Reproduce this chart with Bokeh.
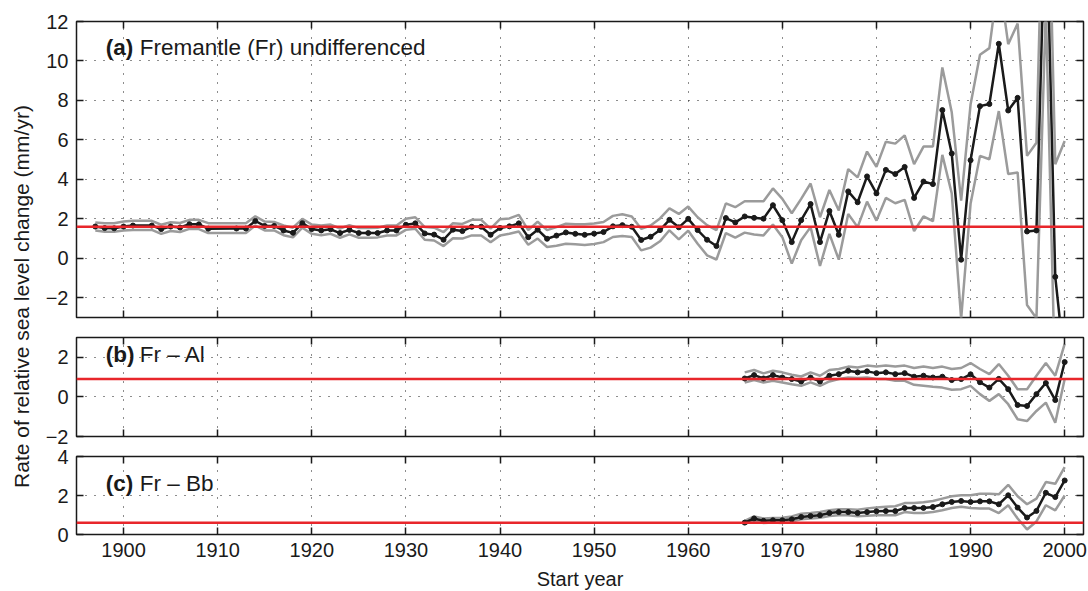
from bokeh.plotting import figure
from bokeh.models import (Range1d, LinearAxis, FixedTicker, Span, Label,
                          ColumnDataSource, CustomJSTickFormatter)
from bokeh.layouts import row, column
from bokeh.embed import file_html
from bokeh.resources import INLINE

# ---------------------------------------------------------------- data
# Start years of the Fremantle record (a few early years have no estimate)
years_a = [1897, 1898, 1899, 1900, 1901, 1903, 1904, 1905, 1906, 1907, 1908,
           1909] + list(range(1912, 2001))

rate_a = [1.61, 1.53, 1.52, 1.61, 1.66, 1.66, 1.48, 1.61, 1.56, 1.73, 1.72,
          1.50,
          1.51, 1.51, 1.89, 1.64, 1.64, 1.41, 1.29, 1.78, 1.48, 1.41,  # 1912-21
          1.47, 1.28, 1.44, 1.28, 1.28, 1.28, 1.41, 1.41, 1.70, 1.77,  # 1922-31
          1.26, 1.20, 0.94, 1.45, 1.38, 1.60, 1.60, 1.19, 1.54, 1.62,  # 1932-41
          1.77, 1.07, 1.45, 0.99, 1.15, 1.31, 1.24, 1.19, 1.25, 1.33,  # 1942-51
          1.62, 1.68, 1.60, 0.93, 1.09, 1.43, 1.95, 1.57, 2.00, 1.43,  # 1952-61
          0.94, 0.62, 2.04, 1.82, 2.12, 2.05, 2.01, 2.69, 1.93, 0.82,  # 1962-71
          1.93, 2.75, 0.82, 2.40, 1.19, 3.39, 2.84, 4.15, 3.29, 4.48,  # 1972-81
          4.27, 4.63, 3.06, 3.89, 3.76, 7.51, 5.31, -0.07, 4.97, 7.71,  # 1982-91
          7.82, 10.87, 7.49, 8.13, 1.36, 1.41, 18.6, -0.94, -5.4]       # 1992-2000

upper_a = [1.81, 1.78, 1.78, 1.86, 1.90, 1.90, 1.70, 1.83, 1.79, 1.95, 1.95,
           1.78,
           1.78, 1.78, 2.13, 1.86, 1.84, 1.66, 1.55, 2.00, 1.71, 1.66,
           1.71, 1.51, 1.68, 1.53, 1.53, 1.55, 1.66, 1.66, 2.00, 2.08,
           1.58, 1.55, 1.33, 1.78, 1.74, 1.95, 1.95, 1.50, 1.98, 2.02,
           2.20, 1.43, 1.85, 1.43, 1.58, 1.75, 1.72, 1.72, 1.76, 1.84,
           2.15, 2.23, 2.12, 1.50, 1.66, 2.02, 2.53, 2.25, 2.62, 2.08,
           1.68, 1.43, 2.78, 2.59, 2.89, 2.89, 2.89, 3.54, 3.01, 2.28,
           3.01, 3.79, 2.08, 3.46, 2.42, 4.52, 4.10, 5.41, 4.63, 5.91,
           5.81, 6.23, 4.77, 5.66, 5.66, 9.67, 7.40, 2.92, 7.79, 10.31,
           10.65, 14.3, 10.85, 11.90, 5.19, 5.86, 24.5, 4.77, 5.94]

lower_a = [1.41, 1.34, 1.34, 1.41, 1.44, 1.44, 1.24, 1.38, 1.33, 1.49, 1.48,
           1.28,
           1.28, 1.28, 1.66, 1.41, 1.41, 1.17, 1.06, 1.55, 1.24, 1.17,
           1.24, 1.04, 1.21, 1.04, 1.04, 1.06, 1.16, 1.16, 1.44, 1.50,
           0.94, 0.90, 0.62, 1.02, 1.00, 1.16, 1.16, 0.81, 1.16, 1.24,
           1.36, 0.69, 1.00, 0.57, 0.64, 0.74, 0.71, 0.68, 0.72, 0.82,
           1.08, 1.13, 1.08, 0.40, 0.54, 0.86, 1.42, 0.96, 1.40, 0.74,
           0.15, -0.06, 1.28, 1.05, 1.30, 1.21, 1.16, 1.71, 1.07, -0.27,
           0.91, 1.58, -0.39, 1.24, -0.07, 2.25, 1.58, 2.87, 1.91, 3.06,
           2.79, 2.96, 1.38, 2.12, 1.88, 5.24, 3.29, -3.06, 2.76, 5.19,
           5.02, 7.46, 4.27, 4.35, -2.37, -3.04, 12.7, -6.65, -16.7]

# Differenced series (Fr - Al, Fr - Bb) start in 1966
years_bc = list(range(1966, 2001))

rate_b = [0.93, 1.10, 0.93, 1.10, 0.98, 0.90, 0.78, 0.98, 0.78, 1.07,
          1.15, 1.32, 1.24, 1.29, 1.20, 1.24, 1.15, 1.20, 1.02, 1.07,
          0.98, 1.02, 0.85, 0.90, 1.14, 0.74, 0.47, 0.91, 0.39, -0.41,
          -0.46, 0.14, 0.70, -0.16, 1.76]
upper_b = [1.24, 1.36, 1.19, 1.32, 1.24, 1.12, 1.03, 1.24, 1.07, 1.36,
           1.41, 1.53, 1.49, 1.58, 1.53, 1.58, 1.53, 1.58, 1.46, 1.53,
           1.46, 1.53, 1.41, 1.46, 1.71, 1.41, 1.15, 1.66, 1.07, 0.39,
           0.39, 1.07, 1.71, 1.07, 2.68]
lower_b = [0.73, 0.85, 0.73, 0.81, 0.73, 0.64, 0.56, 0.73, 0.56, 0.78,
           0.90, 0.98, 0.95, 0.98, 0.90, 0.90, 0.81, 0.81, 0.61, 0.56,
           0.51, 0.47, 0.36, 0.39, 0.56, 0.14, -0.20, 0.14, -0.37, -1.13,
           -1.22, -0.71, -0.29, -1.31, 0.90]

rate_c = [0.61, 0.82, 0.70, 0.73, 0.73, 0.78, 0.90, 0.95, 0.99, 1.10,
          1.15, 1.15, 1.10, 1.15, 1.19, 1.20, 1.20, 1.36, 1.36, 1.36,
          1.41, 1.55, 1.67, 1.72, 1.67, 1.70, 1.70, 1.55, 2.01, 1.38,
          0.87, 1.21, 2.14, 1.92, 2.77]
upper_c = [0.70, 0.93, 0.82, 0.85, 0.86, 0.93, 1.07, 1.10, 1.15, 1.24,
           1.29, 1.29, 1.27, 1.34, 1.39, 1.42, 1.45, 1.61, 1.61, 1.65,
           1.72, 1.84, 1.96, 2.01, 2.01, 2.09, 2.09, 2.06, 2.55, 1.96,
           1.55, 1.84, 2.69, 2.60, 3.45]
lower_c = [0.53, 0.73, 0.59, 0.62, 0.59, 0.67, 0.78, 0.82, 0.86, 0.95,
           0.99, 0.99, 0.93, 0.96, 0.99, 0.99, 0.99, 1.15, 1.10, 1.10,
           1.15, 1.24, 1.36, 1.42, 1.36, 1.33, 1.33, 1.10, 1.50, 0.82,
           0.26, 0.67, 1.50, 1.24, 2.00]

# Long-term mean rate of each series (red reference line)
mean_rate = {"a": 1.6, "b": 0.9, "c": 0.6}

year_ticks = [1900, 1910, 1920, 1930, 1940, 1950, 1960, 1970, 1980, 1990, 2000]
yticks_a = [-2, 0, 2, 4, 6, 8, 10, 12]
yticks_b = [-2, 0, 2]
yticks_c = [0, 2, 4]

panel_titles = {"a": ("(a)", "Fremantle (Fr) undifferenced"),
                "b": ("(b)", "Fr \u2013 Al"),
                "c": ("(c)", "Fr \u2013 Bb")}

# ---------------------------------------------------------------- style
FONT = "Liberation Sans"
INK = "#1a1a1a"
GREY = "#9b9b9b"
RED = "#e8262b"
TICK_SIZE = "20px"
TITLE_SIZE = "22.5px"

x_range = Range1d(1895, 2002)
minus_fmt = CustomJSTickFormatter(
    code="return tick < 0 ? '\u2212' + Math.abs(tick) : String(tick)")


def add_axis(p, place, ticks, labelled):
    ax = LinearAxis(ticker=FixedTicker(ticks=ticks), axis_line_color=None,
                    major_tick_in=7, major_tick_out=0,
                    minor_tick_in=0, minor_tick_out=0,
                    major_tick_line_color=INK, major_tick_line_width=1.5)
    if labelled:
        ax.formatter = minus_fmt
        ax.major_label_text_font = FONT
        ax.major_label_text_font_size = TICK_SIZE
        ax.major_label_text_color = INK
        ax.major_label_standoff = 8
    else:
        ax.major_label_text_color = None
        ax.major_label_text_font_size = "0px"
        ax.major_label_standoff = 0
    p.add_layout(ax, place)
    return ax


def make_panel(key, y_lo, y_hi, yticks, frame_h, top, bottom, years,
               rate, upper, lower, title_y, show_years):
    p = figure(x_range=x_range, y_range=Range1d(y_lo, y_hi),
               frame_width=1007, frame_height=frame_h,
               min_border_left=40, min_border_right=5,
               min_border_top=top, min_border_bottom=bottom,
               x_axis_location=None, y_axis_location=None,
               toolbar_location=None, output_backend="svg",
               outline_line_color=INK, outline_line_width=1.5,
               background_fill_color="white", border_fill_color="white")
    p.xgrid.ticker = FixedTicker(ticks=year_ticks)
    p.ygrid.ticker = FixedTicker(ticks=yticks)
    for g in (p.xgrid, p.ygrid):
        g.grid_line_color = INK
        g.grid_line_dash = "1 8"
        g.grid_line_width = 1

    bottom_ax = add_axis(p, "below", year_ticks, show_years)
    add_axis(p, "above", year_ticks, False)
    add_axis(p, "left", yticks, True)
    add_axis(p, "right", yticks, False)
    if show_years:
        bottom_ax.axis_label = "Start year"
        bottom_ax.axis_label_text_font = FONT
        bottom_ax.axis_label_text_font_size = TICK_SIZE
        bottom_ax.axis_label_text_font_style = "normal"
        bottom_ax.axis_label_text_color = INK
        bottom_ax.axis_label_standoff = 8

    src = ColumnDataSource(dict(year=years, rate=rate, upper=upper, lower=lower))
    p.line("year", "upper", source=src, line_color=GREY, line_width=2.5)
    p.line("year", "lower", source=src, line_color=GREY, line_width=2.5)
    p.add_layout(Span(location=mean_rate[key], dimension="width",
                      line_color=RED, line_width=2.5, level="glyph"))
    p.line("year", "rate", source=src, line_color=INK, line_width=2.5)
    p.scatter("year", "rate", source=src, size=5, fill_color=INK,
              line_color=INK)

    bold, rest = panel_titles[key]
    p.add_layout(Label(x=1898.1, y=title_y, text=bold, text_font=FONT,
                       text_font_size=TITLE_SIZE, text_font_style="bold",
                       text_color=INK, text_baseline="alphabetic"))
    p.add_layout(Label(x=1898.1, y=title_y, x_offset=34, text=rest,
                       text_font=FONT, text_font_size=TITLE_SIZE,
                       text_color=INK, text_baseline="alphabetic"))
    return p


pa = make_panel("a", -3, 12, yticks_a, 296, 21, 10, years_a, rate_a,
                upper_a, lower_a, 10.68, False)
pb = make_panel("b", -2, 3, yticks_b, 99, 10, 10, years_bc, rate_b,
                upper_b, lower_b, 2.12, False)
pc = make_panel("c", 0, 4, yticks_c, 78, 10, 57, years_bc, rate_c,
                upper_c, lower_c, 2.64, True)

# Shared vertical axis title drawn in its own narrow strip
lab = figure(x_range=Range1d(0, 36), y_range=Range1d(0, 591),
             frame_width=36, frame_height=591, min_border=0,
             x_axis_location=None, y_axis_location=None,
             toolbar_location=None, output_backend="svg",
             outline_line_color=None, background_fill_color="white",
             border_fill_color="white")
lab.xgrid.grid_line_color = None
lab.ygrid.grid_line_color = None
lab.add_layout(Label(x=21, y=295, text="Rate of relative sea level change (mm/yr)",
                     angle=1.5707963, text_align="center",
                     text_baseline="middle", text_font=FONT,
                     text_font_size="21px", text_color=INK))

layout = row(lab, column(pa, pb, pc, spacing=0), spacing=0)

open("out.html", "w").write(file_html(layout, INLINE))
